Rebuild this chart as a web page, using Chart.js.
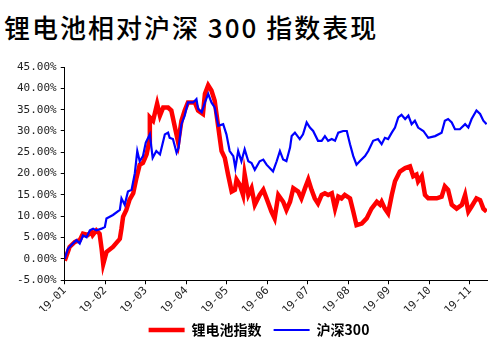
<!DOCTYPE html>
<html>
<head>
<meta charset="utf-8">
<script src="https://cdn.jsdelivr.net/npm/chart.js@4/dist/chart.umd.min.js"></script>
<style>
  body { margin: 0; background: #fff; }
  #wrap { position: relative; width: 503px; height: 343px; }
  #title {
    position: absolute; left: 4px; top: 8px;
    font-family: "Noto Sans CJK SC", sans-serif; font-size: 26px; font-weight: 500;
    letter-spacing: 2px; color: #000; white-space: nowrap;
  }
  #box { position: absolute; left: 0; top: 50px; width: 503px; height: 293px; }
</style>
</head>
<body>
<div id="wrap">
  <div id="title">锂电池相对沪深 300 指数表现</div>
  <div id="box"><canvas id="c"></canvas></div>
</div>
<script>
// month ticks (0 = 19-01)
const xLabels = ['19-01', '19-02', '19-03', '19-04', '19-05', '19-06', '19-07', '19-08', '19-09', '19-10', '19-11'];

// 锂电池指数: time in months since 2019-01-01, cumulative return %
const liX = [0.00, 0.12, 0.25, 0.37, 0.45, 0.57, 0.66, 0.69, 0.78, 0.86, 0.91, 0.95, 1.03, 1.19, 1.36, 1.40, 1.44, 1.52, 1.60, 1.69,
  1.77, 1.85, 1.93, 2.02, 2.08, 2.10, 2.18, 2.28, 2.35, 2.43, 2.55, 2.63, 2.72, 2.80, 2.88, 2.96, 3.04, 3.21, 3.29, 3.41,
  3.46, 3.54, 3.62, 3.70, 3.79, 3.87, 3.95, 4.03, 4.12, 4.20, 4.24, 4.32, 4.40, 4.44, 4.53, 4.61, 4.69, 4.81, 4.90, 4.98,
  5.10, 5.18, 5.27, 5.39, 5.47, 5.56, 5.64, 5.76, 5.84, 5.93, 6.01, 6.09, 6.17, 6.25, 6.34, 6.42, 6.50, 6.59, 6.67, 6.75,
  6.83, 6.91, 7.04, 7.12, 7.20, 7.33, 7.45, 7.57, 7.70, 7.78, 7.82, 7.90, 7.98, 8.07, 8.15, 8.27, 8.40, 8.52, 8.60, 8.68,
  8.72, 8.81, 8.89, 8.97, 9.18, 9.30, 9.38, 9.46, 9.55, 9.67, 9.80, 9.88, 9.96, 10.04, 10.16, 10.25, 10.33, 10.41];
const liY = [-0.4, 2.8, 4.0, 4.4, 5.9, 5.6, 6.3, 5.6, 6.7, 5.9, 2.4, -1.2, 1.6, 2.8, 4.7, 7.1, 9.9, 11.5, 13.9, 15.4,
  19.0, 22.1, 22.5, 24.5, 27.3, 33.2, 32.4, 36.4, 33.6, 35.5, 35.5, 34.8, 30.8, 27.3, 32.4, 34.8, 36.7, 36.7, 34.8, 34.0,
  38.7, 40.7, 39.5, 37.1, 30.8, 25.3, 23.7, 19.8, 15.8, 16.2, 18.6, 17.4, 15.0, 19.8, 15.0, 16.6, 12.7, 15.0, 16.2, 14.2,
  11.1, 9.5, 15.0, 13.4, 11.5, 13.4, 16.6, 15.8, 14.2, 16.6, 18.6, 16.2, 14.2, 13.0, 15.0, 15.4, 15.0, 15.4, 11.8, 14.6,
  14.2, 15.0, 14.2, 11.1, 7.9, 8.3, 9.5, 11.8, 13.4, 12.7, 13.4, 11.8, 10.7, 15.0, 18.2, 20.5, 21.3, 21.7, 19.4, 19.8,
  18.2, 19.4, 15.0, 14.2, 14.2, 14.6, 17.0, 16.2, 12.7, 11.8, 12.7, 15.0, 11.1, 12.3, 14.2, 13.8, 11.8, 11.1];

// 沪深300
const hsX = [0.00, 0.08, 0.20, 0.29, 0.37, 0.45, 0.54, 0.62, 0.70, 0.78, 0.91, 0.99, 1.03, 1.19, 1.36, 1.40, 1.48, 1.56, 1.65, 1.73,
  1.79, 1.85, 1.93, 2.00, 2.10, 2.17, 2.26, 2.35, 2.47, 2.55, 2.59, 2.67, 2.76, 2.81, 2.88, 2.96, 3.04, 3.17, 3.25, 3.29,
  3.38, 3.46, 3.54, 3.62, 3.70, 3.79, 3.91, 3.99, 4.07, 4.16, 4.21, 4.28, 4.36, 4.44, 4.53, 4.61, 4.69, 4.81, 4.90, 4.98,
  5.10, 5.14, 5.23, 5.31, 5.39, 5.47, 5.56, 5.60, 5.68, 5.80, 5.88, 5.97, 6.05, 6.13, 6.25, 6.34, 6.42, 6.50, 6.59, 6.67,
  6.75, 6.87, 6.96, 7.04, 7.12, 7.20, 7.28, 7.41, 7.49, 7.61, 7.73, 7.82, 7.90, 7.98, 8.07, 8.15, 8.23, 8.31, 8.40, 8.48,
  8.56, 8.64, 8.72, 8.85, 8.97, 9.14, 9.30, 9.38, 9.46, 9.55, 9.63, 9.75, 9.88, 9.96, 10.04, 10.16, 10.25, 10.33, 10.41];
const hsY = [0.0, 2.4, 3.6, 4.4, 3.6, 5.5, 5.1, 6.7, 7.1, 6.7, 7.1, 7.5, 9.5, 10.3, 11.5, 14.2, 12.7, 15.8, 16.2, 20.1,
  25.3, 22.9, 24.1, 27.3, 29.2, 23.7, 25.3, 24.5, 29.2, 29.6, 28.4, 28.1, 24.9, 26.1, 31.6, 33.6, 36.7, 36.7, 37.5, 35.2,
  34.4, 36.7, 38.7, 36.7, 35.5, 31.2, 31.6, 29.2, 25.3, 24.1, 21.3, 25.3, 22.9, 25.7, 22.9, 22.5, 20.9, 22.9, 23.3, 22.1,
  20.9, 20.5, 22.9, 25.3, 23.3, 22.9, 26.1, 28.8, 29.6, 28.1, 29.2, 32.0, 30.8, 30.0, 27.7, 27.7, 28.8, 27.7, 28.1, 27.7,
  29.6, 30.0, 30.0, 26.9, 24.1, 22.1, 22.9, 24.1, 25.3, 27.7, 28.1, 26.9, 28.4, 28.1, 29.6, 30.8, 33.2, 33.8, 32.8, 33.6,
  31.6, 32.4, 30.8, 30.0, 28.4, 28.8, 29.6, 32.4, 32.8, 32.0, 30.4, 30.4, 31.6, 30.8, 32.8, 34.8, 34.0, 32.4, 31.6];

const yTicks = [-5, 0, 5, 10, 15, 20, 25, 30, 35, 40, 45];

const pts = (xs, ys) => xs.map((x, i) => ({ x: x, y: ys[i] }));

const tickFont = { family: 'DejaVu Sans Mono', size: 11 };

// legend sits a bit tighter under the axis labels, and a little right of centre
const tightLegend = {
  id: 'tightLegend',
  beforeInit(chart) {
    const fit = chart.legend.fit;
    chart.legend.fit = function () {
      fit.bind(chart.legend)();
      this.height -= 4;
    };
    const draw = chart.legend.draw;
    chart.legend.draw = function () {
      const ctx = chart.ctx;
      ctx.save();
      ctx.translate(9, 0);
      draw.bind(chart.legend)();
      ctx.restore();
    };
  }
};

new Chart(document.getElementById('c'), {
  type: 'line',
  data: {
    datasets: [
      {
        label: '锂电池指数',
        data: pts(liX, liY),
        borderColor: '#ff0000',
        backgroundColor: '#ff0000',
        borderWidth: 4.5,
        pointRadius: 0,
        tension: 0,
        order: 1
      },
      {
        label: '沪深300',
        data: pts(hsX, hsY),
        borderColor: '#0000ff',
        backgroundColor: '#0000ff',
        borderWidth: 2.2,
        pointRadius: 0,
        tension: 0,
        order: 0
      }
    ]
  },
  plugins: [tightLegend],
  options: {
    responsive: true,
    maintainAspectRatio: false,
    animation: false,
    layout: { padding: { left: 13, right: 16, top: 17, bottom: 0 } },
    plugins: {
      legend: {
        position: 'bottom',
        labels: {
          usePointStyle: true,
          pointStyle: 'line',
          pointStyleWidth: 36,
          color: '#000',
          padding: 12,
          font: { family: 'Noto Sans CJK SC', size: 14, weight: 'bold' },
          sort: (a, b) => a.datasetIndex - b.datasetIndex
        }
      },
      tooltip: { enabled: false }
    },
    scales: {
      x: {
        type: 'linear',
        min: 0,
        max: 10.42,
        afterBuildTicks: axis => { axis.ticks = xLabels.map((_, i) => ({ value: i })); },
        afterFit: axis => { axis.height -= 6; },
        ticks: {
          minRotation: 45,
          maxRotation: 45,
          padding: 0,
          color: '#222',
          font: tickFont,
          callback: v => xLabels[Math.round(v)]
        },
        grid: { drawOnChartArea: false, drawTicks: true, tickLength: 4, color: '#000' },
        border: { display: true, color: '#000', width: 1 }
      },
      y: {
        min: -5,
        max: 45,
        afterBuildTicks: axis => { axis.ticks = yTicks.map(v => ({ value: v })); },
        ticks: {
          color: '#222',
          font: tickFont,
          padding: 4,
          callback: v => v.toFixed(2) + '%'
        },
        grid: { drawOnChartArea: false, drawTicks: true, tickLength: 4, color: '#000' },
        border: { display: true, color: '#000', width: 1 }
      }
    }
  }
});
</script>
</body>
</html>
